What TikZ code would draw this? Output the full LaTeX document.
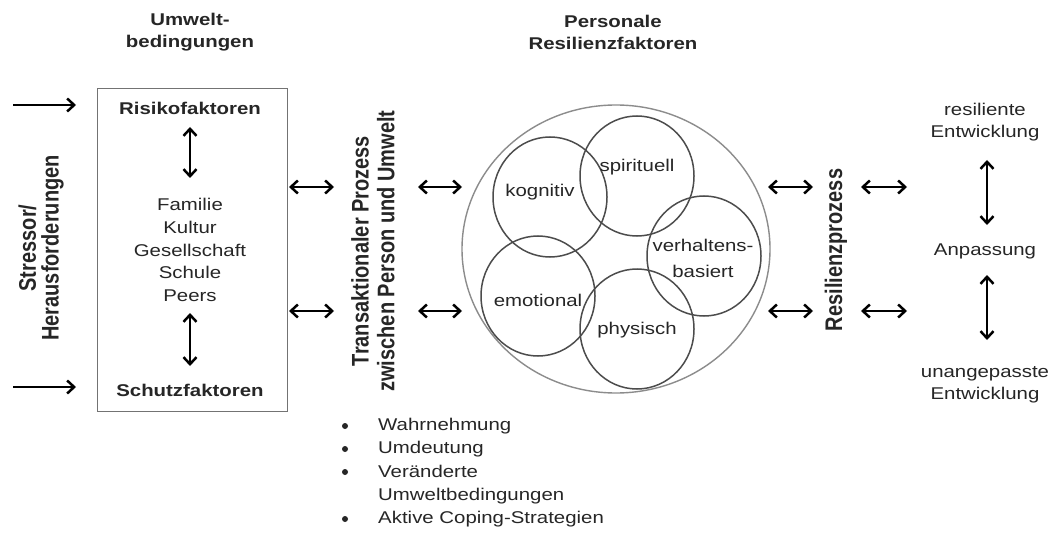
\documentclass[tikz,border=0pt]{standalone}
\usepackage{fontspec}
\setmainfont{Liberation Sans}
\usetikzlibrary{arrows.meta}

\begin{document}
\begin{tikzpicture}[x=1pt,y=-1pt,
dbl/.style = {line width=2.5pt,
        {Straight Barb[length=7pt,width=13pt]}-{Straight Barb[length=7pt,width=13pt]}},
sgl/.style = {line width=2.5pt, -{Straight Barb[length=7pt,width=13pt]}},
txt/.style = {font=\fontsize{17}{22.5}\selectfont, text=black!85, align=center,
        inner sep=0pt, xscale=1.2},
head/.style = {txt, font=\fontsize{17}{22}\selectfont\bfseries},
vtxt/.style = {txt, font=\fontsize{20}{21.5}\selectfont\bfseries, rotate=90},
ring/.style = {line width=1.5pt, black!70}]

        \useasboundingbox[fill=white] (0,0) rectangle (1057,540);

        % headings
        \node[head] (umwelt) at (190,32) {Umwelt-\\bedingungen};
        \node[head] (personal) at (613,32) {Personale\\Resilienzfaktoren};

        % stressors
        \node[vtxt,font=\fontsize{20}{19}\selectfont\bfseries] (stressor) at (41,248) {Stressor/\\Herausforderungen};
        \coordinate (S1_L) at ( 13, 105 );
        \coordinate (S1_R) at ( 76, 105 );
        \coordinate (S2_L) at ( 13, 387 );
        \coordinate (S2_R) at ( 76, 387 );
        \draw[sgl] (S1_L) -- (S1_R);
        \draw[sgl] (S2_L) -- (S2_R);

        % environment box
        \node[draw=black!55,line width=0.8pt,minimum width=190pt,minimum height=323pt] (box) at (192,249.5) {};
        \node[head] (risiko) at (190,108) {Risikofaktoren};
        \node[head] (schutz) at (190,390) {Schutzfaktoren};
        \node[txt,font=\fontsize{17}{22.75}\selectfont] (ebenen) at (190,250) {Familie\\Kultur\\Gesellschaft\\Schule\\Peers};
        \coordinate (R_T) at ( 190, 127 );
        \coordinate (R_B) at ( 190, 178 );
        \coordinate (P_T) at ( 190, 313 );
        \coordinate (P_B) at ( 190, 366 );
        \draw[dbl] (R_T) -- (R_B);
        \draw[dbl] (P_T) -- (P_B);

        % process labels
        \node[vtxt] (trans) at (373,251) {Transaktionaler Prozess\\zwischen Person und Umwelt};
        \node[vtxt] (prozess) at (836,250) {Resilienzprozess};

        \foreach \xa/\xb [count=\i] in {289/334, 418/462, 768/813, 861/907}
          \foreach \yy [count=\j] in {187,311}
          {
            \coordinate (H\i\j_L) at ( \xa, \yy );
            \coordinate (H\i\j_R) at ( \xb, \yy );
            \draw[dbl] (H\i\j_L) -- (H\i\j_R);
          }

        % personal factors
        \draw[line width=1.4pt,black!45] (616,249) ellipse [x radius=154pt, y radius=144pt];
        \coordinate (KOG) at ( 550, 197 );
        \coordinate (SPI) at ( 637, 176 );
        \coordinate (VER) at ( 704, 256 );
        \coordinate (EMO) at ( 538, 296 );
        \coordinate (PHY) at ( 637, 329 );
        \foreach \c in {KOG,SPI,VER,EMO,PHY}
          \draw[ring] (\c) ellipse [x radius=57pt, y radius=60pt];
        \node[txt] (kognitiv) at (540,192) {kognitiv};
        \node[txt] (spirituell) at (637,167) {spirituell};
        \node[txt,font=\fontsize{17}{26}\selectfont] (verhalten) at (703,258) {verhaltens-\\basiert};
        \node[txt] (emotional) at (538,300) {emotional};
        \node[txt] (physisch) at (637,330) {physisch};

        % outcomes
        \node[txt] (resilient) at (985,122) {resiliente\\Entwicklung};
        \node[txt] (anpassung) at (985,251) {Anpassung};
        \node[txt] (unangepasst) at (985,385) {unangepasste\\Entwicklung};
        \coordinate (A1_T) at ( 987, 160 );
        \coordinate (A1_B) at ( 987, 225 );
        \coordinate (A2_T) at ( 987, 275 );
        \coordinate (A2_B) at ( 987, 340 );
        \draw[dbl] (A1_T) -- (A1_B);
        \draw[dbl] (A2_T) -- (A2_B);

        % coping
        \node[txt,font=\fontsize{17}{23.3}\selectfont,anchor=north west,align=left] (liste) at (378,418)
          {Wahrnehmung\\Umdeutung\\Veränderte\\Umweltbedingungen\\Aktive Coping-Strategien};
        \foreach \yy in {426,449,472,519}
          \fill[black!85] (345,\yy) circle (3pt);

    \end{tikzpicture}
\end{document}
